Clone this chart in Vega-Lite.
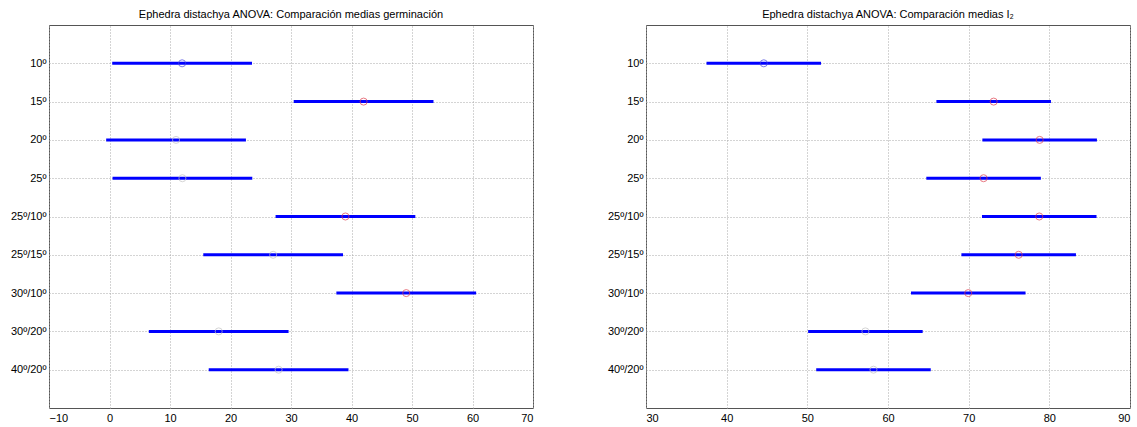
{
  "$schema": "https://vega.github.io/schema/vega-lite/v6.json",
  "background": "white",
  "padding": {"left": 3, "top": 8, "right": 10, "bottom": 5},
  "spacing": 66,
  "config": {
    "font": "Liberation Sans",
    "view": {"stroke": "#555555", "strokeWidth": 1},
    "axis": {
      "domain": false,
      "ticks": false,
      "labelFont": "Liberation Sans",
      "labelFontSize": 11,
      "labelColor": "#000000",
      "labelPadding": 4,
      "grid": true,
      "gridColor": "#a8a8a8",
      "gridDash": [1, 2],
      "gridWidth": 1,
      "gridOpacity": 1,
      "title": null
    },
    "axisY": {"minExtent": 45, "maxExtent": 45, "labelPadding": 3},
    "title": {"font": "Liberation Sans", "fontSize": 11, "fontWeight": "normal", "color": "#000000", "offset": 5}
  },
  "datasets": {
    "germ": [
      {"grupo": "10º", "media": 12.0, "lo": 0.45, "hi": 23.55, "estado": "sel"},
      {"grupo": "15º", "media": 42.0, "lo": 30.45, "hi": 53.55, "estado": "sig"},
      {"grupo": "20º", "media": 11.0, "lo": -0.55, "hi": 22.55, "estado": "ns"},
      {"grupo": "25º", "media": 12.05, "lo": 0.5, "hi": 23.6, "estado": "ns"},
      {"grupo": "25º/10º", "media": 39.0, "lo": 27.45, "hi": 50.55, "estado": "sig"},
      {"grupo": "25º/15º", "media": 27.05, "lo": 15.5, "hi": 38.6, "estado": "ns"},
      {"grupo": "30º/10º", "media": 49.05, "lo": 37.5, "hi": 60.6, "estado": "sig"},
      {"grupo": "30º/20º", "media": 18.05, "lo": 6.5, "hi": 29.6, "estado": "ns"},
      {"grupo": "40º/20º", "media": 27.95, "lo": 16.4, "hi": 39.5, "estado": "ns"}
    ],
    "i2": [
      {"grupo": "10º", "media": 44.6, "lo": 37.5, "hi": 51.7, "estado": "sel"},
      {"grupo": "15º", "media": 73.1, "lo": 66.0, "hi": 80.2, "estado": "sig"},
      {"grupo": "20º", "media": 78.8, "lo": 71.7, "hi": 85.9, "estado": "sig"},
      {"grupo": "25º", "media": 71.85, "lo": 64.75, "hi": 78.95, "estado": "sig"},
      {"grupo": "25º/10º", "media": 78.75, "lo": 71.65, "hi": 85.85, "estado": "sig"},
      {"grupo": "25º/15º", "media": 76.2, "lo": 69.1, "hi": 83.3, "estado": "sig"},
      {"grupo": "30º/10º", "media": 69.95, "lo": 62.85, "hi": 77.05, "estado": "sig"},
      {"grupo": "30º/20º", "media": 57.2, "lo": 50.1, "hi": 64.3, "estado": "ns"},
      {"grupo": "40º/20º", "media": 58.2, "lo": 51.1, "hi": 65.3, "estado": "ns"}
    ]
  },
  "hconcat": [
    {
      "title": "Ephedra distachya ANOVA: Comparación medias germinación",
      "width": 484,
      "height": 383,
      "data": {"name": "germ"},
      "layer": [
        {
          "mark": {"type": "rule", "color": "#0000ff", "strokeWidth": 3},
          "encoding": {
            "y": {"field": "grupo", "type": "nominal", "scale": {"type": "point", "padding": 1, "domain": ["10º", "15º", "20º", "25º", "25º/10º", "25º/15º", "30º/10º", "30º/20º", "40º/20º"]}},
            "x": {"field": "lo", "type": "quantitative", "scale": {"domain": [-10, 70], "nice": false, "zero": false}, "axis": {"values": [-10, 0, 10, 20, 30, 40, 50, 60, 70]}},
            "x2": {"field": "hi"}
          }
        },
        {
          "mark": {"type": "point", "shape": "circle", "filled": false, "size": 50, "strokeWidth": 1},
          "encoding": {
            "y": {"field": "grupo", "type": "nominal"},
            "x": {"field": "media", "type": "quantitative"},
            "color": {"field": "estado", "type": "nominal", "scale": {"domain": ["sel", "sig", "ns"], "range": ["#4646e0", "#e0404e", "#c4c4c4"]}, "legend": null}
          }
        }
      ]
    },
    {
      "title": "Ephedra distachya ANOVA: Comparación medias I₂",
      "width": 484,
      "height": 383,
      "data": {"name": "i2"},
      "layer": [
        {
          "mark": {"type": "rule", "color": "#0000ff", "strokeWidth": 3},
          "encoding": {
            "y": {"field": "grupo", "type": "nominal", "scale": {"type": "point", "padding": 1, "domain": ["10º", "15º", "20º", "25º", "25º/10º", "25º/15º", "30º/10º", "30º/20º", "40º/20º"]}},
            "x": {"field": "lo", "type": "quantitative", "scale": {"domain": [30, 90], "nice": false, "zero": false}, "axis": {"values": [30, 40, 50, 60, 70, 80, 90]}},
            "x2": {"field": "hi"}
          }
        },
        {
          "mark": {"type": "point", "shape": "circle", "filled": false, "size": 50, "strokeWidth": 1},
          "encoding": {
            "y": {"field": "grupo", "type": "nominal"},
            "x": {"field": "media", "type": "quantitative"},
            "color": {"field": "estado", "type": "nominal", "scale": {"domain": ["sel", "sig", "ns"], "range": ["#4646e0", "#e0404e", "#c4c4c4"]}, "legend": null}
          }
        }
      ]
    }
  ]
}
